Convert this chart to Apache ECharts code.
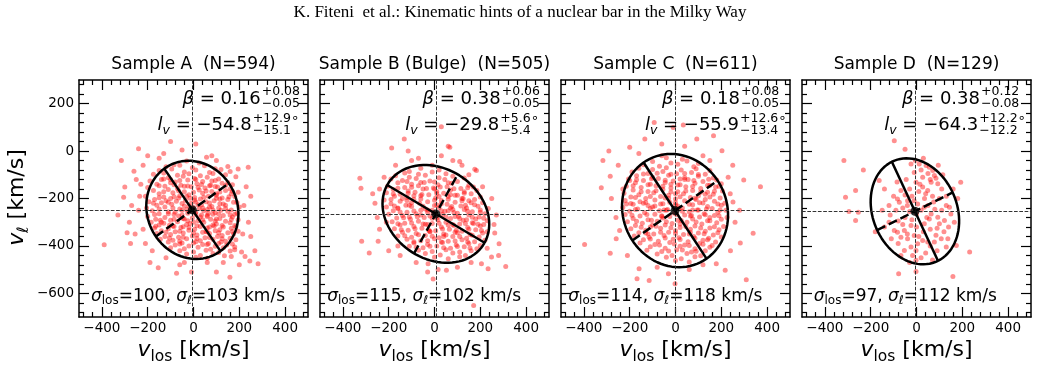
<!DOCTYPE html>
<html><head><meta charset="utf-8">
<script src="https://cdn.jsdelivr.net/npm/echarts@6/dist/echarts.min.js"></script>
<style>html,body{margin:0;padding:0;background:#fff}#c{width:1038px;height:370px}</style>
</head><body><div id="c"></div><script>
// ---------------- data ----------------
const figTitle = 'K. Fiteni  et al.: Kinematic hints of a nuclear bar in the Milky Way';
const panelTitles = ['Sample A  (N=594)', 'Sample B (Bulge)  (N=505)', 'Sample C  (N=611)', 'Sample D  (N=129)'];
const xTicks = [-400, -200, 0, 200, 400];
const yTicks = [-600, -400, -200, 0, 200];
const xMinor = [-480,-440,-360,-320,-280,-240,-160,-120,-80,-40,40,80,120,160,240,280,320,360,440,480];
const yMinor = [280,240,160,120,80,40,-40,-80,-120,-160,-240,-280,-320,-360,-440,-480,-520,-560,-640,-680];
const xRange = [-500, 500];
const yRange = [-700, 300];
// mean velocities (centre of ellipse, crosshair)
const meanVlos = [-5, 6, -2, -7];
const meanVl = [-248, -265, -251, -254];
// ellipse semi-axes (km/s) and vertex deviation (deg)
const semiMajor = [213, 245, 245, 232];
const semiMinor = [195, 192, 225, 183];
const vertexDev = [-54.8, -29.8, -55.9, -64.3];
const betaVal = ['0.16', '0.38', '0.18', '0.38'];
const betaUp = ['+0.08', '+0.06', '+0.08', '+0.12'];
const betaDn = ['\u22120.05', '\u22120.05', '\u22120.05', '\u22120.08'];
const lvVal = ['\u221254.8', '\u221229.8', '\u221255.9', '\u221264.3'];
const lvUp = ['+12.9', '+5.6', '+12.6', '+12.2'];
const lvDn = ['\u221215.1', '\u22125.4', '\u221213.4', '\u221212.2'];
const sigmaLos = ['100', '115', '114', '97'];
const sigmaL = ['103', '102', '118', '112'];

const starsA = [[-30,-42],[25,-50],[-85,-58],[-120,-66],[-60,-60],[-5,-70],[48,-62],[95,-74],[-150,-82],[-95,-76],[-40,-88],[10,-80],[70,-90],[120,-78],[160,-86],
[-175,-98],[-130,-92],[-70,-102],[-20,-96],[30,-104],[85,-94],[140,-100],[-110,-112],[-45,-106],[5,-116],[60,-110],[110,-118],[185,-108],
[-190,-126],[-140,-120],[-80,-130],[-25,-122],[40,-128],[95,-124],[150,-132],[-160,-140],[-100,-134],[-55,-144],[15,-138],[70,-146],[125,-136],[170,-142],
[-200,-154],[-125,-148],[-70,-158],[-10,-150],[50,-156],[105,-152],[160,-160],[-175,-166],[-110,-162],[-40,-172],[25,-164],[80,-170],[140,-166],[195,-174],
[-150,-180],[-90,-176],[-20,-184],[40,-178],[100,-186],[165,-180],[-210,-190],[-130,-194],[-60,-188],[5,-196],[65,-190],[125,-198],[180,-192],
[-170,-204],[-100,-200],[-35,-208],[30,-202],[90,-210],[150,-204],[-195,-214],[-140,-218],[-75,-212],[-10,-220],[55,-214],[115,-222],[175,-216],
[-160,-228],[-95,-224],[-40,-232],[20,-226],[80,-234],[140,-228],[200,-236],[-205,-240],[-125,-236],[-60,-244],[0,-238],[60,-246],[110,-240],[165,-248],
[-180,-252],[-110,-256],[-50,-250],[10,-258],[45,-252],[95,-260],[150,-254],[190,-262],[-150,-264],[-85,-268],[-25,-262],[35,-270],[85,-266],[130,-272],[180,-266],
[-200,-276],[-125,-280],[-65,-274],[-5,-282],[60,-276],[115,-284],[170,-278],[-165,-288],[-100,-292],[-40,-286],[20,-294],[75,-288],[140,-296],[195,-290],
[-185,-300],[-130,-304],[-70,-298],[-15,-306],[45,-300],[100,-308],[160,-302],[-150,-312],[-90,-316],[-30,-310],[30,-318],[85,-312],[130,-320],[180,-314],
[-170,-324],[-110,-328],[-55,-322],[5,-330],[60,-324],[115,-332],[165,-326],[-140,-336],[-80,-340],[-20,-334],[40,-342],[95,-336],[150,-344],[195,-338],
[-160,-348],[-100,-352],[-45,-346],[15,-354],[70,-348],[125,-356],[175,-350],[-125,-360],[-65,-364],[-5,-358],[50,-366],[105,-360],[160,-368],
[-145,-372],[-90,-376],[-30,-370],[30,-378],[85,-372],[140,-380],[185,-374],[-110,-384],[-50,-388],[10,-382],[65,-390],[120,-384],[170,-392],
[-80,-396],[-20,-400],[40,-394],[95,-402],[145,-396],[-100,-408],[-40,-412],[20,-406],[75,-414],[130,-408],[180,-416],
[-60,-420],[0,-426],[55,-418],[110,-428],[160,-422],[-30,-434],[30,-440],[85,-432],[135,-442],[10,-448],[60,-452],
[-20,-232],[35,-226],[70,-236],[-80,-258],[-15,-252],[65,-262],[-45,-284],[30,-278],[100,-286],[-65,-198],[5,-206],[115,-202],[-85,-318],[-20,-322],[90,-316],[-40,-148],[20,-154],[75,-144],
[-120,-210],[-30,-190],[40,-240],[120,-250],[-140,-300],[0,-300],[60,-340],[-60,-380],[100,-180],[-100,-120],
[-130,-118],[-60,-124],[10,-120],[80,-126],[-150,-146],[-85,-142],[-25,-147],[35,-141],[95,-149],[140,-145],
[-130,-171],[-65,-167],[0,-174],[55,-168],[115,-173],[170,-169],[-150,-197],[-85,-193],[-15,-199],[45,-195],[100,-199],[155,-193],
[-175,-220],[-110,-216],[-50,-221],[10,-215],[70,-219],[130,-223],[190,-217],[-150,-244],[-90,-240],[-30,-246],[25,-242],[85,-248],[140,-242],
[-170,-268],[-110,-264],[-50,-270],[10,-266],[60,-271],[110,-265],[160,-270],[-145,-292],[-85,-288],[-25,-294],[40,-290],[95,-295],[165,-289],
[-165,-317],[-105,-313],[-45,-319],[15,-315],[70,-320],[125,-314],[185,-319],[-120,-342],[-60,-338],[0,-344],[55,-340],[110,-345],[170,-339],
[-105,-367],[-45,-363],[15,-369],[70,-365],[125,-370],[-60,-392],[0,-388],[60,-394],[110,-390],
[-390,-395],[-315,-40],[-240,10],[-100,40],[10,30],[-50,5],[57,-26],[-300,-152],[-305,-195],[-260,-85],[-220,-60],[-280,-300],[-275,-390],[-255,-350],[-240,-250],[-230,-140],[-220,-330],[-150,-30],[-130,-10],
[100,-40],[150,-65],[195,-75],[239,-68],[230,-150],[220,-230],[240,-300],[215,-350],[180,-405],[210,-426],[246,-464],[268,-420],[282,-475],[225,-445],[100,-510],[159,-532],[-9,-510],[-74,-515],[-154,-492],
[-40,-470],[60,-470],[130,-470],[-180,-420],[-210,-390],[-120,-450],[165,-445],[-270,-230],[-235,-190],[250,-190],[-250,-120],[-200,-20],[80,-20],[-330,-270],[-290,-345],[250,-360],[-60,-480],[200,-480],[-190,-470]];

const starsB = [[-60,-72],[20,-80],[-110,-86],[-130,-92],[-70,-98],[-10,-88],[50,-96],[-170,-104],[-110,-110],[-40,-102],[20,-112],[80,-106],[130,-114],
[-190,-118],[-140,-124],[-80,-116],[-20,-126],[45,-120],[100,-128],[-160,-134],[-100,-140],[-45,-132],[15,-142],[75,-136],[150,-144],
[-205,-148],[-130,-154],[-70,-146],[-5,-156],[55,-150],[115,-158],[170,-152],[-180,-162],[-115,-168],[-50,-160],[10,-170],[70,-164],[130,-172],[185,-166],
[-210,-176],[-150,-182],[-85,-174],[-25,-184],[40,-178],[100,-186],[160,-180],[-175,-190],[-120,-196],[-60,-188],[5,-198],[60,-192],[125,-200],[200,-194],
[-220,-206],[-150,-212],[-90,-204],[-30,-214],[30,-208],[90,-216],[150,-210],[210,-218],[-190,-222],[-125,-228],[-65,-220],[0,-230],[55,-224],[115,-232],[175,-226],
[-210,-236],[-160,-242],[-100,-234],[-40,-244],[20,-238],[80,-246],[140,-240],[200,-248],[235,-242],[-180,-252],[-120,-258],[-60,-250],[-5,-260],[45,-254],[100,-262],[165,-256],[220,-264],
[-200,-266],[-140,-272],[-80,-264],[-20,-274],[35,-268],[90,-276],[150,-270],[195,-278],[-165,-282],[-105,-288],[-45,-280],[15,-290],[70,-284],[125,-292],[180,-286],[230,-294],
[-185,-298],[-130,-304],[-70,-296],[-10,-306],[50,-300],[110,-308],[165,-302],[215,-310],[-150,-312],[-90,-318],[-30,-310],[30,-320],[85,-314],[145,-322],[200,-316],
[-175,-328],[-115,-334],[-55,-326],[5,-336],[65,-330],[120,-338],[180,-332],[230,-340],[-140,-342],[-80,-348],[-20,-340],[40,-350],[100,-344],[155,-352],[210,-346],
[-160,-358],[-100,-364],[-40,-356],[20,-366],[80,-360],[140,-368],[195,-362],[-120,-372],[-60,-378],[0,-370],[60,-380],[120,-374],[175,-382],[220,-376],
[-90,-388],[-30,-394],[35,-386],[95,-396],[150,-390],[200,-398],[-110,-402],[-50,-408],[10,-400],[70,-410],[130,-404],[185,-412],
[-70,-418],[-10,-424],[50,-416],[110,-426],[160,-420],[-40,-432],[25,-438],[80,-430],[135,-440],[0,-448],[60,-454],[110,-446],
[-30,-248],[60,-252],[130,-246],[-110,-278],[10,-282],[105,-276],[-100,-218],[30,-222],[160,-218],[-50,-308],[60,-312],[170,-306],[-90,-188],[20,-192],[90,-186],[-20,-338],[90,-342],
[-140,-200],[-60,-270],[140,-290],[70,-240],[-10,-250],[40,-360],[-160,-240],[120,-200],[0,-160],
[-120,-128],[-60,-132],[0,-130],[60,-134],[-160,-157],[-100,-153],[-35,-158],[25,-152],[85,-159],[145,-155],
[-180,-181],[-115,-178],[-55,-183],[10,-179],[70,-184],[130,-178],[-190,-204],[-120,-208],[-60,-202],[0,-207],[60,-203],[120,-209],[175,-204],
[-175,-232],[-110,-228],[-50,-233],[10,-227],[75,-234],[135,-229],[190,-233],[-150,-257],[-90,-253],[-30,-258],[30,-252],[85,-259],[145,-254],[200,-258],
[-135,-281],[-75,-277],[-10,-283],[50,-278],[110,-284],[165,-279],[215,-283],[-160,-307],[-100,-303],[-40,-309],[20,-304],[80,-310],[135,-305],[190,-309],
[-145,-332],[-85,-328],[-25,-334],[35,-329],[95,-334],[150,-330],[205,-335],[-130,-357],[-70,-353],[-10,-359],[50,-354],[110,-360],[165,-355],
[-90,-382],[-30,-378],[30,-384],[90,-379],[145,-384],[-80,-406],[-20,-402],[40,-408],[100,-403],[155,-409],
[-326,-115],[-321,-157],[-132,51],[30,103],[-187,13],[-115,0],[60,20],[67,16],[-318,-380],[-285,-430],[-246,-380],[-28,-475],[-6,-540],[16,-500],[52,-503],[171,-651],[311,-487],[282,-391],[263,-346],
[249,-447],[234,-496],[205,-475],[183,-82],[176,-77],[110,-44],[-260,-220],[-250,-280],[-240,-160],[-220,-110],[-170,-60],[-70,-30],[30,-20],[80,-40],[150,-100],[210,-150],[250,-200],[270,-270],[260,-310],
[-200,-420],[-150,-440],[-240,-330],[100,-490],[160,-470],[280,-440],[-80,-470],[-10,-60],[120,-60],[-100,-40],[-270,-180],[-210,-300],[-160,-400],[-30,-510],[230,-410]];

const starsC = [[-40,-28],[30,-34],[-100,-44],[-20,-50],[50,-42],[100,-52],[-140,-58],[-70,-64],[10,-56],[80,-66],[-160,-72],[-100,-78],[-40,-70],[25,-80],[90,-74],[150,-82],
[-190,-88],[-120,-94],[-55,-86],[5,-96],[70,-90],[130,-98],[-170,-104],[-100,-110],[-30,-102],[40,-112],[100,-106],[165,-114],
[-205,-118],[-140,-124],[-75,-116],[-10,-126],[55,-120],[120,-128],[180,-122],[-175,-134],[-110,-140],[-45,-132],[20,-142],[85,-136],[150,-144],[200,-138],
[-215,-148],[-150,-154],[-85,-146],[-20,-156],[45,-150],[110,-158],[175,-152],[-185,-164],[-120,-170],[-55,-162],[10,-172],[75,-166],[140,-174],[205,-168],
[-225,-178],[-160,-184],[-95,-176],[-30,-186],[35,-180],[100,-188],[165,-182],[-195,-194],[-130,-200],[-65,-192],[0,-202],[65,-196],[130,-204],[195,-198],
[-220,-208],[-155,-214],[-90,-206],[-25,-216],[40,-210],[105,-218],[170,-212],[215,-220],[-185,-224],[-120,-230],[-55,-222],[10,-232],[75,-226],[140,-234],[200,-228],
[-230,-238],[-165,-244],[-100,-236],[-35,-246],[30,-240],[95,-248],[160,-242],[220,-250],[-200,-254],[-135,-260],[-70,-252],[-5,-262],[60,-256],[125,-264],[185,-258],
[-220,-268],[-155,-274],[-90,-266],[-25,-276],[40,-270],[105,-278],[170,-272],[225,-280],[-185,-284],[-120,-290],[-55,-282],[10,-292],[75,-286],[140,-294],[200,-288],
[-210,-298],[-145,-304],[-80,-296],[-15,-306],[50,-300],[115,-308],[180,-302],[-175,-314],[-110,-320],[-45,-312],[20,-322],[85,-316],[150,-324],[210,-318],
[-195,-328],[-130,-334],[-65,-326],[0,-336],[65,-330],[130,-338],[190,-332],[-160,-344],[-95,-350],[-30,-342],[35,-352],[100,-346],[165,-354],
[-180,-358],[-115,-364],[-50,-356],[15,-366],[80,-360],[145,-368],[200,-362],[-140,-374],[-75,-380],[-10,-372],[55,-382],[120,-376],[175,-384],
[-155,-388],[-90,-394],[-25,-386],[40,-396],[105,-390],[160,-398],[-110,-404],[-45,-410],[20,-402],[85,-412],[150,-406],
[-125,-418],[-60,-424],[5,-416],[70,-426],[130,-420],[-80,-434],[-15,-440],[50,-432],[110,-442],[-40,-448],[25,-454],[85,-446],[0,-462],[60,-468],
[-40,-250],[30,-254],[100,-248],[-90,-232],[0,-228],[-60,-276],[70,-272],[-30,-200],[90,-204],[-100,-312],[20,-308],[0,-180],[130,-182],
[-140,-220],[150,-280],[-20,-140],[60,-350],[-120,-350],[40,-120],
[-140,-97],[-80,-93],[-20,-98],[40,-94],[100,-99],[-170,-121],[-105,-117],[-45,-123],[20,-118],[80,-124],[145,-119],
[-185,-146],[-120,-142],[-55,-148],[10,-143],[75,-149],[140,-144],[190,-148],[-150,-171],[-85,-167],[-20,-173],[45,-168],[110,-174],[170,-169],
[-175,-196],[-110,-192],[-45,-198],[20,-193],[85,-199],[150,-194],[-195,-221],[-130,-217],[-65,-223],[0,-218],[60,-224],[120,-219],[185,-223],
[-175,-246],[-110,-242],[-50,-248],[15,-243],[75,-249],[135,-244],[195,-248],[-190,-271],[-125,-267],[-60,-273],[5,-268],[65,-274],[130,-269],[190,-273],
[-170,-296],[-105,-292],[-40,-298],[25,-293],[90,-299],[150,-294],[-150,-321],[-85,-317],[-20,-323],[45,-318],[110,-324],[170,-319],
[-130,-346],[-65,-342],[0,-348],[65,-343],[125,-349],[185,-344],[-110,-371],[-45,-367],[20,-373],[85,-368],[140,-374],
[-70,-396],[-5,-392],[60,-398],[120,-393],[-30,-421],[30,-417],[90,-423],
[-397,-394],[-324,-155],[-317,-40],[-291,0],[-285,-106],[-285,-431],[-200,16],[-93,121],[34,110],[-10,100],[-134,51],[93,51],[166,65],[203,2],[298,-122],[371,-150],[239,-180],[251,-215],
[339,-347],[283,-388],[309,-543],[217,-503],[178,-475],[-159,-496],[-168,-539],[-115,-546],[-31,-517],[-2,-560],[-214,-223],[-244,-335],[-259,-370],[-200,-124],[-250,-60],[-160,-10],[-60,30],
[40,20],[120,-20],[250,-60],[260,-300],[240,-420],[-260,-280],[-210,-440],[-80,-490],[60,-500],[120,-480],[280,-250],[-230,-160],[-280,-200],[230,-110],[-60,-20],[150,-40]];

const starsD = [[-317,-40],[-310,-195],[-295,-255],[-266,-166],[-266,-293],[-254,-258],[-232,-80],[-163,-124],[-97,44],[-50,8],[-2,-508],[-78,-518],[159,-529],[232,-426],[193,-131],[174,-398],
[-24,-54],[12,-54],[42,-61],[56,-68],[71,-82],[78,-103],[27,-110],[-2,-131],[64,-131],[93,-138],[27,-152],[49,-166],[-68,-166],[-83,-202],[-75,-216],[-39,-209],[5,-223],[34,-237],
[64,-265],[93,-279],[100,-307],[122,-293],[144,-237],[56,-286],[34,-307],[-24,-314],[-53,-335],[-83,-342],[-97,-335],[-68,-363],[-39,-370],[-10,-356],[27,-377],[49,-384],[78,-384],
[108,-370],[137,-370],[130,-405],[5,-391],[-24,-405],[-2,-419],[-53,-419],[-17,-440],[-2,-461],[-68,-440],
[20,-80],[50,-95],[-10,-90],[85,-115],[110,-160],[130,-190],[100,-200],[70,-190],[40,-180],[10,-170],[-30,-160],[-50,-185],[-100,-190],[-120,-230],[-90,-250],[-60,-240],[-30,-255],
[0,-265],[20,-250],[50,-230],[80,-245],[110,-250],[150,-265],[165,-300],[140,-320],[120,-340],[90,-325],[60,-330],[30,-340],[0,-320],[-20,-290],[-50,-280],[-80,-295],[-120,-300],
[-140,-320],[-110,-370],[-80,-390],[-40,-350],[10,-360],[60,-400],[90,-420],[40,-430],[20,-450],[-30,-470],[70,-460],[-150,-250],[-140,-160],[-180,-340],[180,-200],[160,-160],
[-10,-210],[15,-140],[-45,-120],[95,-60],[-5,-40],[30,-30],[60,-120],[115,-100],[-20,-190],[75,-215],[-85,-130],[35,-200],[-40,-230],[130,-230],[-60,-310],[85,-355],[-115,-270],[45,-280]];
const samples = [starsA, starsB, starsC, starsD];

// ---------------- layout / style ----------------
const SANS = '"DejaVu Sans", sans-serif';
const SERIF = '"Liberation Serif", "Times New Roman", serif';
const GL = [79, 320, 561, 802], GW = 229, GT = 80, GH = 237;
const fmt = v => (v < 0 ? '\u2212' + Math.abs(v) : String(v));

const cv = document.createElement('canvas').getContext('2d');
const fontStr = (s, it, fam) => (it ? 'italic ' : '') + s + 'px ' + (fam || SANS);
function tw(t, s, it, fam) { cv.font = fontStr(s, it, fam); return cv.measureText(t).width; }
function pw(p) { return p.sup !== undefined ? Math.max(tw(p.sup, p.s), tw(p.sub, p.s)) : tw(p.t, p.s, p.it, p.fam); }
function txt(t, x, base, s, it, fam) {
  return { type: 'text', x: x, y: base - 0.33 * s, silent: true, z: 100,
    style: { text: t, font: fontStr(s, it, fam), fill: '#000', align: 'left', verticalAlign: 'middle' } };
}
function run(pieces, x, base, align) {
  const ws = pieces.map(pw);
  const total = ws.reduce((a, b) => a + b, 0);
  let cx = align === 'right' ? x - total : align === 'center' ? x - total / 2 : x;
  const els = [];
  pieces.forEach((p, k) => {
    if (p.sup !== undefined) {
      els.push(txt(p.sup, cx, base + p.up, p.s));
      els.push(txt(p.sub, cx, base + p.dn, p.s));
    } else {
      els.push(txt(p.t, cx, base + (p.dy || 0), p.s, p.it, p.fam));
    }
    cx += ws[k];
  });
  return els;
}

const betaEnd = [260.7, 500.7, 740, 980];
const lvEnd = [251.7, 499.3, 739, 978.3];
const sigCenter = [188, 424.2, 665.3, 905.3];

function xAxisCfg(gi, pos, major, labels) {
  const vals = major ? xTicks : xMinor;
  return { gridIndex: gi, type: 'value', position: pos, min: xRange[0], max: xRange[1],
    axisLine: { show: major, onZero: false, lineStyle: { color: '#000', width: 1.5 } },
    axisTick: { show: true, inside: true, length: major ? 10 : 5, customValues: vals, lineStyle: { color: '#000', width: 1.2 } },
    axisLabel: { show: labels, customValues: vals, formatter: fmt, color: '#000', fontSize: 13.5, fontFamily: SANS, margin: 4 },
    splitLine: { show: false } };
}
function yAxisCfg(gi, pos, major, labels) {
  const vals = major ? yTicks : yMinor;
  return { gridIndex: gi, type: 'value', position: pos, min: yRange[0], max: yRange[1],
    axisLine: { show: major, onZero: false, lineStyle: { color: '#000', width: 1.5 } },
    axisTick: { show: true, inside: true, length: major ? 10 : 5, customValues: vals, lineStyle: { color: '#000', width: 1.2 } },
    axisLabel: { show: labels, customValues: vals, formatter: fmt, color: '#000', fontSize: 13.5, fontFamily: SANS, margin: 5 },
    splitLine: { show: false } };
}

const grids = [], xAxes = [], yAxes = [], series = [];
let graphics = [];
const titleSize = 17;
graphics.push(txt(figTitle, 520 - tw(figTitle, titleSize, false, SERIF) / 2, 18.5, titleSize, false, SERIF));

for (let i = 0; i < 4; i++) {
  for (let g = 0; g < 2; g++) {
    const gi = i * 2 + g, major = g === 0;
    grids.push({ left: GL[i], top: GT, width: GW, height: GH });
    xAxes.push(xAxisCfg(gi, 'bottom', major, major));
    xAxes.push(xAxisCfg(gi, 'top', major, false));
    yAxes.push(yAxisCfg(gi, 'left', major, major && i === 0));
    yAxes.push(yAxisCfg(gi, 'right', major, false));
  }
  const xi = i * 4, yi = i * 4;
  const cx = meanVlos[i], cy = meanVl[i];
  const th = vertexDev[i] * Math.PI / 180, a = semiMajor[i], b = semiMinor[i];
  const ell = [];
  for (let k = 0; k <= 180; k++) {
    const t = k / 180 * 2 * Math.PI;
    const u = a * Math.cos(t), v = b * Math.sin(t);
    ell.push([cx + u * Math.cos(th) - v * Math.sin(th), cy + u * Math.sin(th) + v * Math.cos(th)]);
  }
  const majorAxis = [[cx - a * Math.cos(th), cy - a * Math.sin(th)], [cx + a * Math.cos(th), cy + a * Math.sin(th)]];
  const minorAxis = [[cx + b * Math.sin(th), cy - b * Math.cos(th)], [cx - b * Math.sin(th), cy + b * Math.cos(th)]];
  series.push({ type: 'scatter', xAxisIndex: xi, yAxisIndex: yi, data: samples[i], symbol: 'circle', symbolSize: 5,
    itemStyle: { color: 'rgba(255,0,0,0.55)' }, z: 2, silent: true });
  series.push({ type: 'line', xAxisIndex: xi, yAxisIndex: yi, data: ell, showSymbol: false, symbol: 'none',
    lineStyle: { color: '#000', width: 2.5 }, z: 4, silent: true });
  series.push({ type: 'line', xAxisIndex: xi, yAxisIndex: yi, data: majorAxis, showSymbol: false, symbol: 'none',
    lineStyle: { color: '#000', width: 2.5 }, z: 4, silent: true });
  series.push({ type: 'line', xAxisIndex: xi, yAxisIndex: yi, data: minorAxis, showSymbol: false, symbol: 'none',
    lineStyle: { color: '#000', width: 2.5, type: [9, 4] }, z: 4, silent: true });
  series.push({ type: 'scatter', xAxisIndex: xi, yAxisIndex: yi, data: [[cx, cy]], symbol: 'circle', symbolSize: 9,
    itemStyle: { color: '#000' }, z: 5, silent: true,
    markLine: { silent: true, symbol: 'none', label: { show: false }, animation: false,
      lineStyle: { color: '#333', width: 1, type: [3.7, 1.6] },
      data: [{ xAxis: cx }, { yAxis: cy }] } });

  const pc = GL[i] + GW / 2;
  graphics = graphics.concat(run([{ t: panelTitles[i], s: 17 }], pc, 70.5, 'center'));
  // beta
  graphics = graphics.concat(run([{ t: '\u03b2', s: 18, it: true }, { t: ' = ' + betaVal[i], s: 18 }], betaEnd[i], 105.5, 'right'));
  graphics = graphics.concat(run([{ sup: betaUp[i], sub: betaDn[i], s: 12.5, up: -10, dn: 2 }], betaEnd[i] + 1, 105.5, 'left'));
  // l_v
  graphics = graphics.concat(run([{ t: 'l', s: 18, it: true }, { t: 'v', s: 12.5, it: true, dy: 4 }, { t: ' = ' + lvVal[i], s: 18 }], lvEnd[i], 131, 'right'));
  graphics = graphics.concat(run([{ sup: lvUp[i], sub: lvDn[i], s: 12.5, up: -8.5, dn: 4 }, { t: '\u2218', s: 13.5, dy: -8.5 }], lvEnd[i] + 1, 131, 'left'));
  // sigma line
  graphics = graphics.concat(run([
    { t: '\u03c3', s: 17, it: true }, { t: 'los', s: 12, dy: 3 }, { t: '=' + sigmaLos[i] + ', ', s: 17 },
    { t: '\u03c3', s: 17, it: true }, { t: '\u2113', s: 12, dy: 3 }, { t: '=' + sigmaL[i] + ' km/s', s: 17 }], sigCenter[i], 301.7, 'center'));
  // x label
  graphics = graphics.concat(run([{ t: 'v', s: 22, it: true }, { t: 'los', s: 15.5, dy: 4.5 }, { t: ' [km/s]', s: 22 }], pc, 358, 'center'));
}
// y label (rotated)
graphics.push({ type: 'group', x: 25, y: 197.5, rotation: Math.PI / 2, silent: true,
  children: run([{ t: 'v', s: 22, it: true }, { t: '\u2113', s: 15.5, dy: 4.5 }, { t: ' [km/s]', s: 22 }], 0, 0, 'center') });

const chart = echarts.init(document.getElementById('c'), null, { renderer: 'canvas' });
chart.setOption({
  animation: false,
  backgroundColor: '#fff',
  grid: grids, xAxis: xAxes, yAxis: yAxes, series: series,
  graphic: { elements: graphics }
});
</script></body></html>
